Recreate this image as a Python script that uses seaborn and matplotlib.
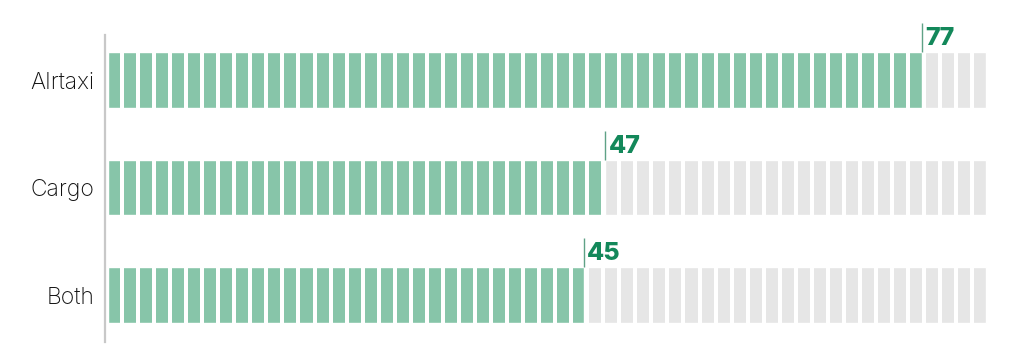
import numpy as np
import pandas as pd
import matplotlib
matplotlib.use("Agg")
import matplotlib.pyplot as plt
import seaborn as sns

# data
categories = ["AIrtaxi", "Cargo", "Both"]
values = [77, 47, 45]
n_segments = 55          # segments drawn in each track

# styling
GREEN = "#87c5a9"
DARK_GREEN = "#13885a"
TRACK = "#e6e6e6"
SPINE = "#c8c8c8"
seg_pitch = 1.517        # data units per segment
seg_gap = 0.378          # white gap between segments
track_len = n_segments * seg_pitch - seg_gap

sns.set_theme(style="white")
plt.rcParams["font.family"] = ["Inter", "DejaVu Sans"]

df = pd.DataFrame({"category": categories, "value": values})
df["track"] = track_len

fig = plt.figure(figsize=(10.24, 3.63), dpi=100)
ax = fig.add_axes([105 / 1024, 1 - 342 / 363, (1000 - 105) / 1024, 307 / 363])

bar_h = 0.52
sns.barplot(data=df, x="track", y="category", orient="h", color=TRACK,
            width=bar_h, saturation=1, ax=ax, zorder=1)
sns.barplot(data=df, x="value", y="category", orient="h", color=GREEN,
            width=bar_h, saturation=1, ax=ax, zorder=1.5)

# white gaps cut the bars into segments
gaps = np.arange(seg_pitch - seg_gap / 2, track_len, seg_pitch)
for i in range(len(categories)):
    ax.vlines(gaps, i - bar_h / 2 - 0.01, i + bar_h / 2 + 0.01, colors="white",
              linewidth=seg_gap * 10.574 * 0.72, zorder=2)

# value markers and labels
for i, v in enumerate(values):
    ax.vlines(v, i - bar_h / 2 - 0.27, i - bar_h / 2, colors="#5fa286",
              linewidth=1.0, zorder=3, clip_on=False)
    ax.annotate(str(v), xy=(v, i - bar_h / 2), xytext=(2.5, 5),
                textcoords="offset points", ha="left", va="baseline",
                fontsize=18, fontweight="heavy", color=DARK_GREEN,
                annotation_clip=False, zorder=4)

ax.set_xlim(-3 / 10.574, (1000 - 108) / 10.574)
ax.set_ylim(2 + 47 / 107.5, -45 / 107.5)
ax.set_xlabel("")
ax.set_ylabel("")
ax.set_xticks([])
ax.tick_params(axis="y", length=0, pad=7.5, labelsize=16.5, labelcolor="#111111")
for lab in ax.get_yticklabels():
    lab.set_fontweight("light")

for s in ["top", "right", "bottom"]:
    ax.spines[s].set_visible(False)
ax.spines["left"].set_color(SPINE)
ax.spines["left"].set_linewidth(1.6)

fig.savefig("out.png", dpi=100, facecolor="white")
